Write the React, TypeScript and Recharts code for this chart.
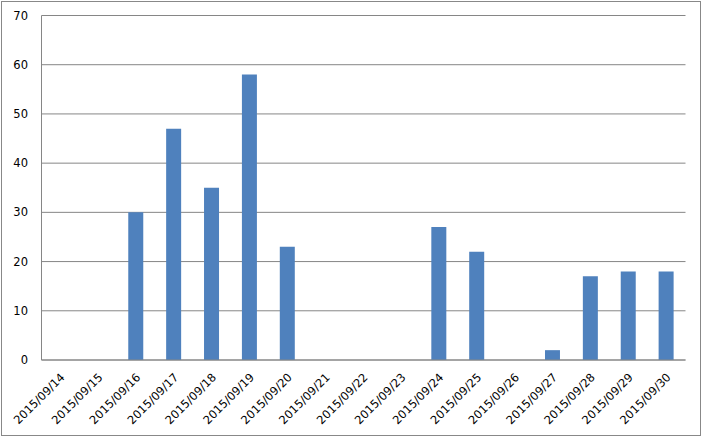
import React from 'react';
import { BarChart, Bar, XAxis, YAxis, CartesianGrid } from 'recharts';

const categories = [
  '2015/09/14', '2015/09/15', '2015/09/16', '2015/09/17', '2015/09/18', '2015/09/19',
  '2015/09/20', '2015/09/21', '2015/09/22', '2015/09/23', '2015/09/24', '2015/09/25',
  '2015/09/26', '2015/09/27', '2015/09/28', '2015/09/29', '2015/09/30',
];
const values = [0, 0, 30, 47, 35, 58, 23, 0, 0, 0, 27, 22, 0, 2, 17, 18, 18];
const yTicks = [0, 10, 20, 30, 40, 50, 60, 70];

const data = categories.map((c, i) => ({ date: c, value: values[i] }));

const FONT = 'DejaVu Sans';

const XTick = (props: any) => {
  const { x, y, payload } = props;
  return (
    <text
      x={x + 5}
      y={y + 10}
      transform={`rotate(-45, ${x + 5}, ${y + 10})`}
      textAnchor="end"
      fontFamily={FONT}
      fontSize={11.5}
      fill="#000"
    >
      {payload.value}
    </text>
  );
};

const YTick = (props: any) => {
  const { y, payload } = props;
  return (
    <text x={28} y={y + 4} textAnchor="end" fontFamily={FONT} fontSize={11.5} fill="#000">
      {payload.value}
    </text>
  );
};

export default function App() {
  return (
    <div style={{ position: 'absolute', left: 0, top: 0, width: 702, height: 437, background: '#fff' }}>
      <svg width={702} height={437} style={{ position: 'absolute', left: 0, top: 0 }}>
        <rect x={1.5} y={1.5} width={699} height={434} fill="#fff" stroke="#888" strokeWidth={1} />
      </svg>
      <div style={{ position: 'absolute', left: 0, top: 0 }}>
        <BarChart
          width={702}
          height={437}
          data={data}
          margin={{ top: 15.5, right: 16.5, left: 0, bottom: 0 }}
          barSize={15}
        >
          <CartesianGrid vertical={false} stroke="#868686" strokeWidth={1} />
          <XAxis
            dataKey="date"
            interval={0}
            height={77}
            tickLine={false}
            axisLine={{ stroke: '#868686' }}
            tick={<XTick />}
          />
          <YAxis
            width={41.5}
            domain={[0, 70]}
            ticks={yTicks}
            tickLine={false}
            axisLine={{ stroke: '#868686' }}
            tick={<YTick />}
          />
          <Bar dataKey="value" fill="#4F81BD" isAnimationActive={false} />
        </BarChart>
      </div>
    </div>
  );
}
